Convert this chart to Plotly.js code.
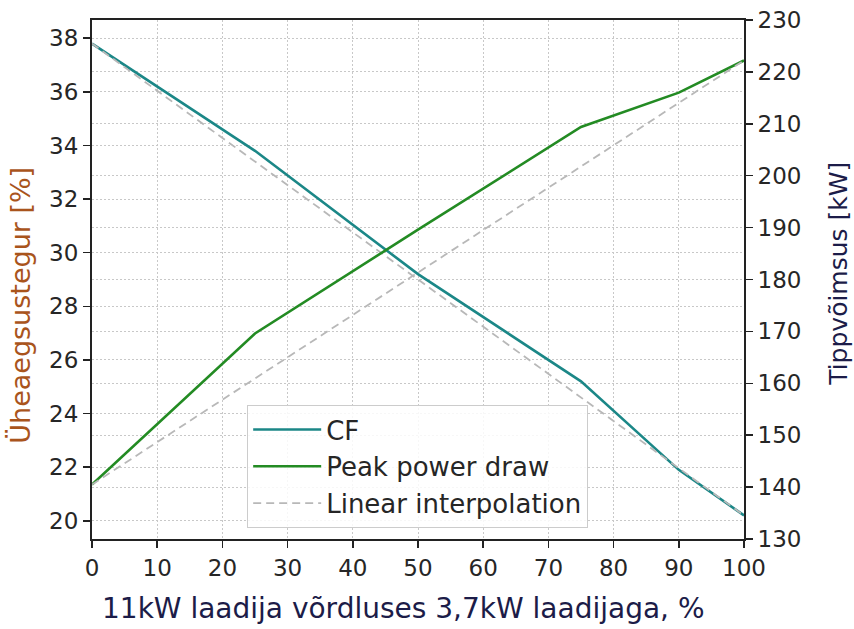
<!DOCTYPE html>
<html>
<head>
<meta charset="utf-8">
<script src="https://cdn.plot.ly/plotly-3.0.1.min.js"></script>
<style>
  html, body { margin: 0; padding: 0; background: #ffffff; }
  #chart { width: 854px; height: 629px; }
</style>
</head>
<body>
<div id="chart"></div>
<script>
// Share of 11 kW chargers vs 3.7 kW chargers, %
const share = [0, 25, 50, 75, 90, 100];
// Coincidence factor (left axis), %
const cf = [37.8, 33.8, 29.2, 25.2, 21.9, 20.2];
// Peak power draw (right axis), kW
const peak = [140.5, 169.6, 189.6, 209.4, 216.0, 222.2];

const xTicks = [0, 10, 20, 30, 40, 50, 60, 70, 80, 90, 100];
const cfTicks = [20, 22, 24, 26, 28, 30, 32, 34, 36, 38];
const peakTicks = [130, 140, 150, 160, 170, 180, 190, 200, 210, 220, 230];

const ends = a => [a[0], a[a.length - 1]];

const teal = '#1b8787';
const green = '#238b23';
const dashGrey = '#b8b8b8';
const gridGrey = '#c8c8c8';
const ink = '#262626';
const tickFont = { family: 'DejaVu Sans', size: 23, color: ink };

const traces = [
  { x: share, y: cf, name: 'CF', type: 'scatter', mode: 'lines',
    line: { color: teal, width: 2.6 }, yaxis: 'y' },
  { x: ends(share), y: ends(cf), name: 'Linear interpolation', type: 'scatter', mode: 'lines',
    line: { color: dashGrey, width: 1.8, dash: '8px,5px' }, yaxis: 'y', showlegend: false },
  { x: share, y: peak, name: 'Peak power draw', type: 'scatter', mode: 'lines',
    line: { color: green, width: 2.6 }, yaxis: 'y2' },
  { x: ends(share), y: ends(peak), name: 'Linear interpolation', type: 'scatter', mode: 'lines',
    line: { color: dashGrey, width: 1.8, dash: '8px,5px' }, yaxis: 'y2' }
];

const layout = {
  width: 854, height: 629,
  margin: { l: 92, r: 110, t: 20, b: 90 },
  paper_bgcolor: '#ffffff', plot_bgcolor: '#ffffff',
  showlegend: true,
  legend: {
    x: 0.238, y: 0.258, xanchor: 'left', yanchor: 'top',
    bgcolor: 'rgba(255,255,255,0.85)', bordercolor: '#cccccc', borderwidth: 1,
    font: { family: 'DejaVu Sans', size: 26, color: ink },
    itemwidth: 68,
    traceorder: 'normal'
  },
  xaxis: {
    range: [0, 100], tickvals: xTicks, ticktext: xTicks.map(String),
    showgrid: true, gridcolor: gridGrey, griddash: '2px,2px', gridwidth: 1,
    zeroline: false, showline: true, linecolor: '#222222', linewidth: 2, mirror: true,
    ticks: 'outside', ticklen: 7, tickwidth: 1.5, tickcolor: '#222222',
    tickfont: tickFont
  },
  yaxis: {
    range: [19.32, 38.68], tickvals: cfTicks, ticktext: cfTicks.map(String),
    showgrid: true, gridcolor: gridGrey, griddash: '2px,2px', gridwidth: 1,
    zeroline: false, showline: true, linecolor: '#222222', linewidth: 2, mirror: true,
    ticks: 'outside', ticklen: 7, tickwidth: 1.5, tickcolor: '#222222',
    tickfont: tickFont
  },
  yaxis2: {
    range: [130, 230], tickvals: peakTicks, ticktext: peakTicks.map(String),
    overlaying: 'y', side: 'right',
    showgrid: true, gridcolor: gridGrey, griddash: '2px,2px', gridwidth: 1,
    zeroline: false, showline: true, linecolor: '#222222', linewidth: 2,
    ticks: 'outside', ticklen: 7, tickwidth: 1.5, tickcolor: '#222222',
    tickfont: tickFont
  },
  annotations: [
    { text: 'Üheaegsustegur [%]', xref: 'paper', yref: 'paper',
      x: -0.11, y: 0.45, xanchor: 'center', yanchor: 'middle', textangle: -90,
      showarrow: false, font: { family: 'DejaVu Sans', size: 27, color: '#a9541c' } },
    { text: 'Tippvõimsus [kW]', xref: 'paper', yref: 'paper',
      x: 1.145, y: 0.51, xanchor: 'center', yanchor: 'middle', textangle: -90,
      showarrow: false, font: { family: 'DejaVu Sans', size: 25, color: '#1c1c48' } },
    { text: '11kW laadija võrdluses 3,7kW laadijaga, %', xref: 'paper', yref: 'paper',
      x: 0.477, y: -0.133, xanchor: 'center', yanchor: 'middle',
      showarrow: false, font: { family: 'DejaVu Sans', size: 28, color: '#1c1c48' } }
  ]
};

Plotly.newPlot('chart', traces, layout, { displayModeBar: false, staticPlot: true });
</script>
</body>
</html>
